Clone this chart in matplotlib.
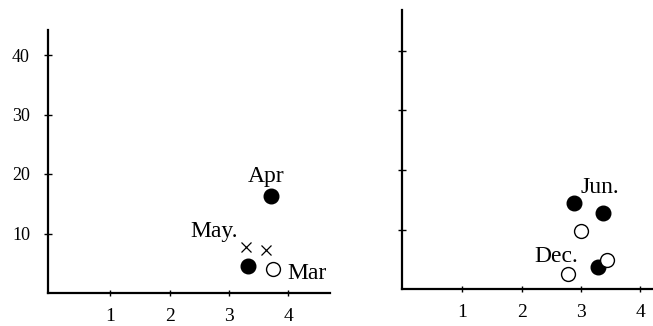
import matplotlib
matplotlib.use("Agg")
import matplotlib.pyplot as plt

plt.rcParams['font.family'] = ['Liberation Serif', 'DejaVu Serif']

# Left panel: spring months
left_filled_x = [3.71, 3.33]
left_filled_y = [16.3, 4.5]
left_open_x = [3.74]
left_open_y = [4.0]
left_cross_x = [3.28, 3.63]
left_cross_y = [7.7, 7.2]
left_labels = ["Apr", "May.", "Mar"]
left_label_x = [3.31, 2.35, 3.99]
left_label_y = [18.7, 9.4, 2.3]

# Right panel: summer / winter months
right_filled_x = [2.89, 3.38, 3.29]
right_filled_y = [14.4, 12.8, 3.7]
right_open_x = [3.01, 3.44, 2.78]
right_open_y = [9.7, 4.9, 2.5]
right_labels = ["Jun.", "Dec."]
right_label_x = [2.99, 2.22]
right_label_y = [16.1, 4.5]

x_ticks = [1, 2, 3, 4]
y_ticks = [10, 20, 30, 40]

W, H = 653, 326
fig = plt.figure(figsize=(W / 100, H / 100), dpi=100)


def make_axes(left, right, bottom, top, x0, y0):
    ax = fig.add_axes([left / W, 1 - bottom / H, (right - left) / W, (bottom - top) / H])
    px_x = 59.3
    px_y = 5.95
    ax.set_xlim(-(x0 - left) / px_x, (right - x0) / px_x)
    ax.set_ylim(-(bottom - y0) / px_y, (bottom - top) / px_y - (bottom - y0) / px_y)
    for s in ("top", "right"):
        ax.spines[s].set_visible(False)
    for s in ("left", "bottom"):
        ax.spines[s].set_linewidth(1.6)
    ax.set_xticks(x_ticks)
    ax.set_xticklabels([str(t) for t in x_ticks], fontsize=14)
    ax.set_yticks(y_ticks)
    ax.tick_params(axis="x", direction="inout", length=5, width=1.0, pad=8)
    ax.tick_params(axis="y", direction="inout", length=6, width=1.0, pad=10)
    return ax


axl = make_axes(48, 330, 293, 30, 51, 293)
axl.set_yticklabels([str(t) for t in y_ticks], fontsize=13)

axr = make_axes(402, 653, 289, 10, 403, 289)
axr.set_yticklabels([])

axl.plot(left_filled_x, left_filled_y, "o", color="black", markersize=10.5, linestyle="none")
axl.plot(left_open_x, left_open_y, "o", markerfacecolor="white", markeredgecolor="black",
         markeredgewidth=1.0, markersize=10, linestyle="none")
axl.plot(left_cross_x, left_cross_y, "x", color="black", markersize=6.5,
         markeredgewidth=0.9, linestyle="none")
for t, x, y in zip(left_labels, left_label_x, left_label_y):
    axl.text(x, y, t, fontsize=17, ha="left", va="baseline", color="black")

axr.plot(right_filled_x, right_filled_y, "o", color="black", markersize=10.5, linestyle="none")
axr.plot(right_open_x, right_open_y, "o", markerfacecolor="white", markeredgecolor="black",
         markeredgewidth=1.0, markersize=10, linestyle="none")
for t, x, y in zip(right_labels, right_label_x, right_label_y):
    axr.text(x, y, t, fontsize=17, ha="left", va="baseline", color="black")

for ax in (axl, axr):
    for art in ax.lines + ax.texts:
        art.set_clip_on(False)

fig.savefig("out.png", dpi=100, facecolor="white")
